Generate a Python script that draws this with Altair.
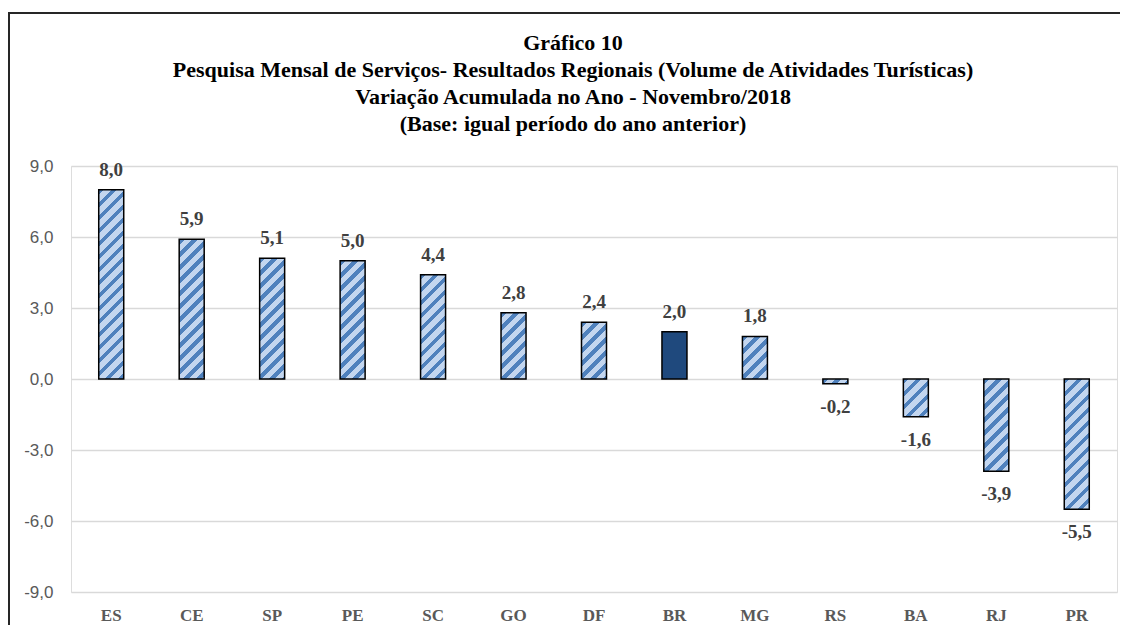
import altair as alt
import pandas as pd

# ---- data ----
ufs = ["ES", "CE", "SP", "PE", "SC", "GO", "DF", "BR", "MG", "RS", "BA", "RJ", "PR"]
valores = [8.0, 5.9, 5.1, 5.0, 4.4, 2.8, 2.4, 2.0, 1.8, -0.2, -1.6, -3.9, -5.5]
destaque = "BR"
y_ticks = [-9, -6, -3, 0, 3, 6, 9]
titulo = [
    "Gráfico 10",
    "Pesquisa Mensal de Serviços- Resultados Regionais (Volume de Atividades Turísticas)",
    "Variação Acumulada no Ano - Novembro/2018",
    "(Base: igual período do ano anterior)",
]

# ---- style ----
W, H = 1046, 426
Y_MIN, Y_MAX = -9, 9
BAR_W = 25
STRIPE_P = 13.0
LIGHT = "#C3D6EF"
DARK = "#4F81BD"
SOLID = "#1F497D"
SERIF = "Liberation Serif"
SANS = "Liberation Sans"

df = pd.DataFrame({"uf": ufs, "v": valores})
df["rot"] = [f"{v:.1f}".replace(".", ",") for v in valores]


def stripes(v):
    h = max(abs(v) * H / (Y_MAX - Y_MIN), 1.0)
    w = float(BAR_W)
    s = w * w + h * h
    x2 = (w + h) * w / s
    y2 = (w + h) * h / s
    step = STRIPE_P / (w + h)
    stops = []
    k = 0
    while k * step < 1:
        a = k * step
        b = min(a + 0.42 * step, 1.0)
        c = min((k + 1) * step, 1.0)
        stops += [(a, DARK), (b, DARK), (b, LIGHT), (c, LIGHT)]
        k += 1
    return alt.LinearGradient(
        gradient="linear", x1=0, y1=0, x2=x2, y2=y2,
        stops=[alt.GradientStop(offset=round(o, 5), color=col) for o, col in stops],
    )


base = alt.Chart(df).encode(
    x=alt.X(
        "uf:N", sort=ufs, title=None,
        scale=alt.Scale(paddingInner=0, paddingOuter=0),
        axis=alt.Axis(
            labelAngle=0, domain=False, ticks=False, grid=False, labelPadding=15,
            labelFont=SERIF, labelFontWeight="bold", labelFontSize=17, labelColor="#595959",
        ),
    ),
    y=alt.Y(
        "v:Q", title=None,
        scale=alt.Scale(domain=[Y_MIN, Y_MAX], nice=False, zero=True),
        axis=alt.Axis(
            values=y_ticks, domain=False, ticks=False, labelPadding=18,
            labelExpr="replace(replace(format(datum.value, '.1f'), '.', ','), '\u2212', '-')",
            labelFont=SANS, labelFontSize=17, labelColor="#595959",
            gridColor="#D9D9D9", gridWidth=1.3,
        ),
    ),
)

layers = []
for uf, v in zip(ufs, valores):
    fill = SOLID if uf == destaque else stripes(v)
    layers.append(
        base.transform_filter(alt.datum.uf == uf).mark_bar(
            size=BAR_W, fill=fill, stroke="black", strokeWidth=1.5
        )
    )

lab_style = dict(font=SERIF, fontWeight="bold", fontSize=19, color="#404040", baseline="middle")
pos = base.transform_filter("datum.v >= 0").mark_text(dy=-20, **lab_style).encode(text="rot:N")
neg = base.transform_filter("datum.v < 0").mark_text(dy=23, **lab_style).encode(text="rot:N")

one = pd.DataFrame({"a": [0]})

border = alt.Chart(one).mark_rect(
    fill=None, stroke="#262626", strokeWidth=2
).encode(
    x=alt.value(-62), x2=alt.value(W + 40), y=alt.value(-153), y2=alt.value(H + 60)
)

title_mark = alt.Chart(one).mark_text(
    text=titulo, font=SERIF, fontSize=22, fontWeight="bold", color="black",
    lineHeight=27, baseline="top", align="center",
).encode(x=alt.value(502), y=alt.value(-133))

chart = alt.layer(*layers, pos, neg, border, title_mark).properties(
    width=W, height=H,
    autosize=alt.AutoSizeParams(type="none"),
    padding={"left": 63, "top": 158, "right": 3, "bottom": 33},
).configure_view(stroke=None).configure(background="white")

chart.save("out.html", embed_options={"renderer": "svg", "actions": False})
